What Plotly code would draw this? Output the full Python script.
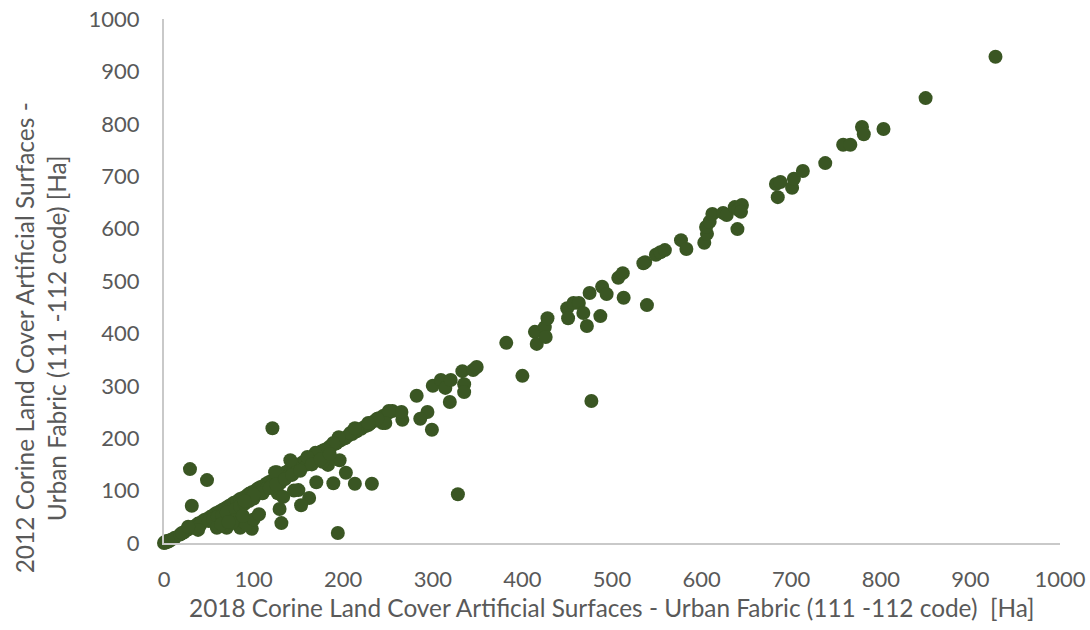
import plotly.graph_objects as go

# 2018 area (x) vs 2012 area (y), hectares
x_2018 = [
    0, 1, 3, 5, 2, 4, 6, 8, 12, 18, 22, 25, 28, 32, 35, 38, 42, 45, 48, 52, 55, 58, 62, 65, 68,
    72, 75, 78, 82, 85, 88, 92, 95, 98, 102, 105, 108, 112, 115, 118, 122, 125, 128, 132, 135,
    138, 142, 145, 148, 152, 155, 158, 162, 165, 168, 172, 175, 178, 182, 185, 188, 192, 195,
    198, 202, 205, 210, 215, 220, 225, 230, 235, 240, 245, 250, 255,
    40, 50, 55, 60, 65, 70, 80, 85, 90, 95, 100, 105, 110, 115, 120, 130, 135, 140, 145, 150, 160,
    38, 59, 70, 85, 98, 79, 76, 92, 100, 106, 88, 64, 72,
    29, 48, 31, 20, 27, 121, 126, 141, 127, 129, 131, 133, 150, 162, 153, 170, 189, 213, 232,
    203, 196, 183, 177, 194, 328, 145, 124,
    244, 238, 228, 215, 208, 195, 189, 180, 169, 160,
    282, 294, 286, 299, 266, 265, 251, 247, 238, 228, 213, 300, 309, 314, 320, 319, 333, 335,
    335, 345, 349, 382, 400, 414, 416, 425, 426, 428, 450, 451, 457, 463, 468, 472, 475, 477,
    487, 489, 494, 507, 512, 513, 537, 539, 535, 549, 554, 559, 577, 583, 603, 606, 605, 609,
    612, 624, 628, 640, 637, 641, 645, 644, 683, 688, 685, 701, 703, 713, 738, 758, 766, 779,
    781, 803, 850, 928,
    110, 118, 125, 135, 143, 152, 165, 175, 185, 100, 90,
]
y_2012 = [
    0, 2, 4, 3, 1, 3, 5, 6, 10, 16, 20, 24, 27, 30, 33, 37, 40, 44, 46, 50, 53, 57, 60, 63, 66,
    70, 73, 77, 80, 84, 86, 90, 94, 97, 100, 104, 107, 110, 114, 117, 120, 124, 127, 130, 134,
    137, 140, 144, 147, 150, 154, 157, 160, 164, 167, 170, 174, 177, 180, 184, 187, 190, 194,
    197, 200, 204, 208, 213, 218, 223, 228, 233, 238, 243, 248, 252,
    33, 42, 45, 50, 52, 58, 65, 70, 75, 80, 85, 95, 100, 105, 110, 115, 125, 130, 140, 140, 150,
    25, 29, 29, 29, 27, 44, 38, 35, 45, 55, 52, 36, 40,
    141, 120, 71, 19, 31, 219, 135, 158, 95, 65, 38, 88, 101, 86, 72, 116, 114, 113, 113,
    134, 158, 149, 155, 19, 93, 100, 135,
    229, 235, 225, 216, 210, 202, 191, 177, 172, 164,
    281, 250, 237, 216, 235, 250, 252, 229, 237, 229, 219, 300, 311, 296, 311, 269, 328, 303,
    288, 330, 336, 382, 319, 403, 380, 412, 393, 429, 448, 429, 458, 458, 439, 414, 477, 271,
    433, 489, 475, 506, 515, 468, 536, 454, 534, 550, 555, 559, 578, 561, 573, 590, 603, 613,
    628, 630, 626, 599, 641, 636, 645, 632, 685, 689, 660, 678, 695, 710, 725, 760, 760, 794,
    780, 790, 849, 928,
    95, 105, 112, 122, 130, 138, 150, 160, 170, 92, 80,
]

x_ticks = [0, 100, 200, 300, 400, 500, 600, 700, 800, 900, 1000]
y_ticks = [0, 100, 200, 300, 400, 500, 600, 700, 800, 900, 1000]

x_title = "2018 Corine Land Cover Artificial Surfaces - Urban Fabric (111 -112 code)  [Ha]"
y_title_line1 = "2012 Corine Land Cover Artificial Surfaces -"
y_title_line2 = "Urban Fabric (111 -112 code) [Ha]"

FONT = "Lato, 'Open Sans', sans-serif"
TEXT = "#595959"

fig = go.Figure(
    go.Scatter(
        x=x_2018, y=y_2012, mode="markers",
        marker=dict(size=14, color="#3A5623", line=dict(width=0)),
        cliponaxis=False, showlegend=False,
    )
)

axis_common = dict(
    range=[0, 1000], showgrid=False, zeroline=False, showline=True,
    linecolor="#C9C9C9", linewidth=2, ticks="", fixedrange=True, automargin=False,
    ticklabeloverflow="allow",
    tickfont=dict(family=FONT, size=22, color=TEXT),
)
fig.update_xaxes(tickvals=x_ticks, ticktext=[str(v) for v in x_ticks],
                 ticklabelstandoff=16, **axis_common)
fig.update_yaxes(tickvals=y_ticks, ticktext=[str(v) for v in y_ticks],
                 ticklabelstandoff=18, **axis_common)

fig.update_layout(
    width=1090, height=630,
    margin=dict(l=164, r=30, t=19, b=87, autoexpand=False),
    paper_bgcolor="white", plot_bgcolor="white",
    font=dict(family=FONT, color=TEXT),
    annotations=[
        dict(text=x_title, xref="paper", yref="paper", x=0.5, y=-0.124,
             xanchor="center", yanchor="middle", showarrow=False,
             font=dict(family=FONT, size=24.4, color=TEXT)),
        dict(text=y_title_line1, xref="paper", yref="paper", x=-0.156, y=0.391,
             xanchor="center", yanchor="middle", textangle=-90, showarrow=False,
             font=dict(family=FONT, size=24.5, color=TEXT)),
        dict(text=y_title_line2, xref="paper", yref="paper", x=-0.1205, y=0.391,
             xanchor="center", yanchor="middle", textangle=-90, showarrow=False,
             font=dict(family=FONT, size=24.5, color=TEXT)),
    ],
)

fig.write_html("out.html",
               config={"displayModeBar": False},
               post_script="document.body.style.margin='0';document.body.style.overflow='hidden';")
